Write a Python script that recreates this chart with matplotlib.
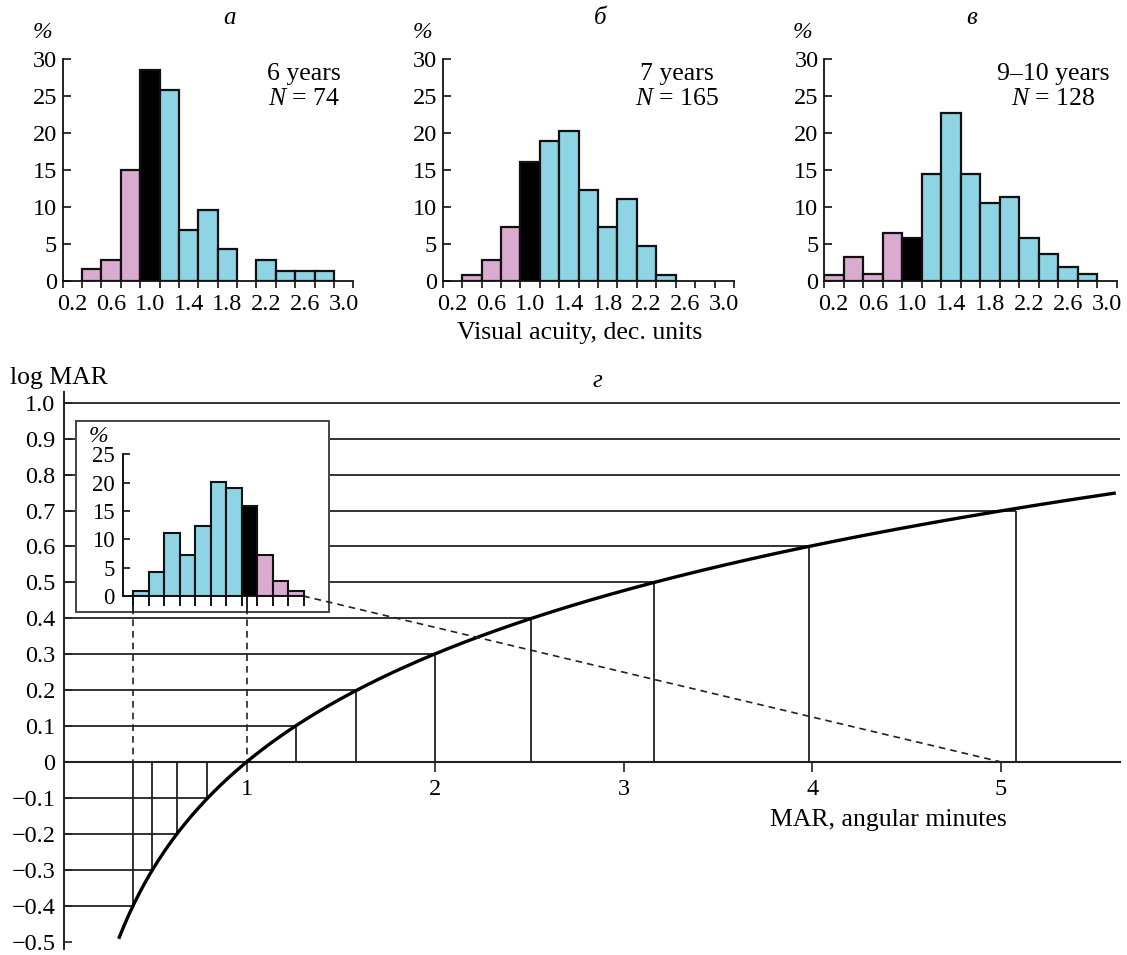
import numpy as np
import matplotlib
matplotlib.use("Agg")
import matplotlib.pyplot as plt
from matplotlib.patches import Rectangle

plt.rcParams['font.family'] = ['Liberation Serif', 'DejaVu Serif']
plt.rcParams['mathtext.fontset'] = 'custom'
plt.rcParams['mathtext.rm'] = 'Liberation Serif'
plt.rcParams['mathtext.it'] = 'Liberation Serif:italic'

# ---------------- data ----------------
acuity_centers = [0.2, 0.4, 0.6, 0.8, 1.0, 1.2, 1.4, 1.6, 1.8, 2.0, 2.2, 2.4, 2.6, 2.8, 3.0]
acuity_labels = ["0.2", "0.6", "1.0", "1.4", "1.8", "2.2", "2.6", "3.0"]
pct_6y = [0, 1.6, 2.8, 15.0, 28.6, 25.8, 6.9, 9.6, 4.3, 0, 2.9, 1.4, 1.4, 1.4, 0]
pct_7y = [0, 0.8, 2.9, 7.3, 16.1, 19.0, 20.3, 12.3, 7.3, 11.1, 4.8, 0.8, 0, 0, 0]
pct_9y = [0.8, 3.3, 1.0, 6.5, 5.8, 14.5, 22.8, 14.5, 10.5, 11.4, 5.8, 3.6, 1.9, 1.0, 0]
panel_letters = ["а", "б", "в"]
panel_ages = ["6 years", "7 years", "9–10 years"]
panel_n = [74, 165, 128]

inset_pct = [0.9, 4.3, 11.1, 7.2, 12.3, 20.1, 19.1, 15.8, 7.3, 2.6, 0.95]
inset_group = ["hi", "hi", "hi", "hi", "hi", "hi", "hi", "norm", "lo", "lo", "lo"]

logmar_levels = [-0.4, -0.3, -0.2, -0.1, 0.1, 0.2, 0.3, 0.4, 0.5, 0.6, 0.7]
mar_marks = [0.40, 0.50, 0.63, 0.79, 1.26, 1.58, 2.00, 2.51, 3.16, 3.98, 5.08]
full_levels = [0.8, 0.9, 1.0]
logmar_ticks = [-0.5, -0.4, -0.3, -0.2, -0.1, 0, 0.1, 0.2, 0.3, 0.4, 0.5, 0.6, 0.7, 0.8, 0.9, 1.0]
mar_ticks = [1, 2, 3, 4, 5]
curve_range = [0.325, 5.6]

# ---------------- style ----------------
PINK = "#d9abcf"
CYAN = "#8fd4e4"
BLACK = "#000000"
EDGE = "#111111"
LINE = "#222222"
W, H = 1127, 955
TICK_FS = 17.5
TEXT_FS = 18.5

def frac(l, t, r, b):
    return [l / W, 1 - b / H, (r - l) / W, (b - t) / H]

def color_for(center):
    if abs(center - 1.0) < 1e-9:
        return BLACK
    return PINK if center < 1.0 else CYAN

fig = plt.figure(figsize=(W / 100, H / 100), dpi=100)

# ---------------- top histograms ----------------
boxes = [(62.7, 59.3, 353.3, 281), (442.7, 59.3, 734, 281), (824, 59.3, 1116.7, 281)]
letter_x = [230, 600, 972]
pct_x = [42, 422, 802]
text_cx = [304, 677, 1053]
edges = np.round(np.arange(0.1, 3.11, 0.2), 2)
for k, (bx, data) in enumerate(zip(boxes, [pct_6y, pct_7y, pct_9y])):
    ax = fig.add_axes(frac(*bx))
    for c, v in zip(acuity_centers, data):
        if v > 0:
            ax.bar(c, v, width=0.2, color=color_for(c), edgecolor=EDGE, linewidth=1.6, zorder=3)
    ax.set_xlim(0.1, 3.1)
    ax.set_ylim(0, 30)
    for s in ["top", "right"]:
        ax.spines[s].set_visible(False)
    for s in ["left", "bottom"]:
        ax.spines[s].set_linewidth(1.3)
        ax.spines[s].set_color(EDGE)
    ax.set_yticks([0, 5, 10, 15, 20, 25, 30])
    ax.set_yticklabels(["0", "5", "10", "15", "20", "25", "30"])
    ax.tick_params(axis="y", direction="in", length=6, width=1.2, pad=4, labelsize=TICK_FS, color=EDGE)
    ax.set_xticks(edges)
    ax.set_xticklabels([])
    ax.tick_params(axis="x", which="major", direction="out", length=5, width=1.2, color=EDGE)
    ax.set_xticks([float(s) for s in acuity_labels], minor=True)
    ax.set_xticklabels(acuity_labels, minor=True)
    ax.tick_params(axis="x", which="minor", length=0, pad=9, labelsize=TICK_FS)
    fig.text(letter_x[k] / W, 1 - 18 / H, panel_letters[k], fontsize=18, style="italic",
             ha="center", va="center")
    fig.text(pct_x[k] / W, 1 - 33 / H, "%", fontsize=17, style="italic", ha="center", va="center")
    fig.text(text_cx[k] / W, 1 - 74 / H, panel_ages[k], fontsize=TEXT_FS, ha="center", va="center")
    fig.text(text_cx[k] / W, 1 - 99 / H, "$N$ = %d" % panel_n[k], fontsize=TEXT_FS, ha="center", va="center")

fig.text(580 / W, 1 - 333 / H, "Visual acuity, dec. units", fontsize=TEXT_FS, ha="center", va="center")

# ---------------- main log MAR plot ----------------
xmin, xmax = 0.03, 5.63
ax = fig.add_axes(frac(63.7, 392, 1119.8, 948.7))
ax.set_xlim(xmin, xmax)
ax.set_ylim(-0.52, 1.03)
for s in ["top", "right"]:
    ax.spines[s].set_visible(False)
ax.spines["bottom"].set_position(("data", 0))
ax.spines["bottom"].set_linewidth(1.5)
ax.spines["bottom"].set_color(LINE)
ax.spines["left"].set_linewidth(1.4)
ax.spines["left"].set_color(LINE)

for v, m in zip(logmar_levels, mar_marks):
    ax.plot([xmin, m], [v, v], color=LINE, lw=1.3, zorder=2, solid_capstyle="butt")
    ax.plot([m, m], [0, v], color=LINE, lw=1.3, zorder=2, solid_capstyle="butt")
for v in full_levels:
    ax.plot([xmin, xmax], [v, v], color=LINE, lw=1.3, zorder=2)

mar_curve = np.linspace(curve_range[0], curve_range[1], 400)
ax.plot(mar_curve, np.log10(mar_curve), color="black", lw=2.4, zorder=4)

# inset frame (data coords of main axes)
box_l, box_r, box_b, box_t = 0.0954, 1.437, 0.418, 0.948
inset_axis_y = 0.462
ax.add_patch(Rectangle((box_l, box_b), box_r - box_l, box_t - box_b, facecolor="white",
                       edgecolor="#444444", lw=1.4, zorder=5))
# projection lines from inset histogram
for xm in [mar_marks[0], 1.0]:
    ax.plot([xm, xm], [inset_axis_y, 0], color=LINE, lw=1.2, ls=(0, (4, 3)), zorder=3)
    ax.plot([xm, xm], [inset_axis_y, box_b], color=LINE, lw=1.4, zorder=6)
ax.plot([1.30, 5.0], [inset_axis_y, 0], color=LINE, lw=1.2, ls=(0, (4, 3)), zorder=6)

ax.set_yticks(logmar_ticks)
ax.set_yticklabels([("%.1f" % t).replace("-", "\u2212") if t != 0 else "0" for t in logmar_ticks])
ax.tick_params(axis="y", direction="in", length=6, width=1.2, pad=6, labelsize=TICK_FS, color=LINE)
ax.set_xticks(mar_ticks)
ax.set_xticklabels([str(t) for t in mar_ticks])
ax.tick_params(axis="x", direction="out", length=7, width=1.2, pad=5, labelsize=TICK_FS, color=LINE)

fig.text(10 / W, 1 - 378 / H, "log MAR", fontsize=TEXT_FS, ha="left", va="center")
fig.text(597 / W, 1 - 381 / H, "г", fontsize=18, style="italic", ha="center", va="center")
fig.text(888 / W, 1 - 820 / H, "MAR, angular minutes", fontsize=TEXT_FS, ha="center", va="center")

# ---------------- inset histogram ----------------
iax = fig.add_axes(frac(123.3, 454.3, 306, 596))
iax.patch.set_alpha(0)
gcol = {"hi": CYAN, "norm": BLACK, "lo": PINK}
pos = np.arange(len(inset_pct))
for p, v, g in zip(pos, inset_pct, inset_group):
    iax.bar(p, v, width=1.0, align="edge", color=gcol[g], edgecolor=EDGE, linewidth=1.5, zorder=3)
iax.set_xlim(-0.632, 11.15)
iax.set_ylim(0, 25)
for s in ["top", "right"]:
    iax.spines[s].set_visible(False)
for s in ["left", "bottom"]:
    iax.spines[s].set_linewidth(1.4)
    iax.spines[s].set_color(EDGE)
iax.spines["bottom"].set_bounds(-0.632, 11.0)
iax.set_yticks([0, 5, 10, 15, 20, 25])
iax.set_yticklabels(["0", "5", "10", "15", "20", "25"])
iax.tick_params(axis="y", direction="in", length=5, width=1.2, pad=6, labelsize=16.5, color=EDGE)
iax.set_xticks(np.arange(len(inset_pct) + 1))
iax.set_xticklabels([])
iax.tick_params(axis="x", direction="out", length=7, width=1.4, color=EDGE)
fig.text(98 / W, 1 - 436 / H, "%", fontsize=17, style="italic", ha="center", va="center")

fig.savefig("out.png", dpi=100)
